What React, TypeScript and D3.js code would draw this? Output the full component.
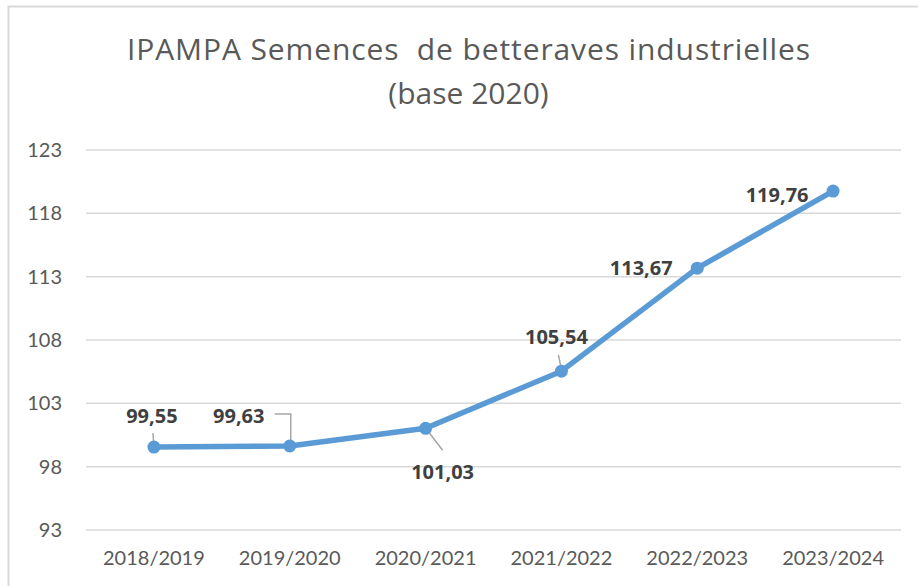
import React from "react";
import * as d3 from "d3";

const categories = ["2018/2019", "2019/2020", "2020/2021", "2021/2022", "2022/2023", "2023/2024"];
const values = [99.55, 99.63, 101.03, 105.54, 113.67, 119.76];
const yTicks = [93, 98, 103, 108, 113, 118, 123];
const valueLabels = ["99,55", "99,63", "101,03", "105,54", "113,67", "119,76"];
const titleLines = ["IPAMPA Semences  de betteraves industrielles", "(base 2020)"];

// label layout offsets relative to the point (dx, dy of text center/baseline)
const labelOffsets: [number, number][] = [
  [-2, -24],
  [-51, -23],
  [17, 51],
  [-5, -27],
  [-56, 7],
  [-56, 11],
];

const W = 918;
const H = 586;

export default function App() {
  const x = d3.scalePoint<string>().domain(categories).range([86, 901]).padding(0.5);
  const y = d3.scaleLinear().domain([93, 123]).range([530, 150]);
  const line = d3
    .line<number>()
    .x((_, i) => x(categories[i]) as number)
    .y((d) => y(d));

  const pts = values.map((v, i) => ({ cx: x(categories[i]) as number, cy: y(v) }));

  const leaders: string[] = [
    `M${pts[0].cx},${pts[0].cy - 2} L${pts[0].cx - 1},${pts[0].cy - 14}`,
    `M${pts[1].cx - 15},${pts[1].cy - 32} L${pts[1].cx + 1},${pts[1].cy - 32} L${pts[1].cx + 1},${pts[1].cy - 2}`,
    `M${pts[2].cx + 1},${pts[2].cy + 1} L${pts[2].cx + 17},${pts[2].cy + 22}`,
    `M${pts[3].cx},${pts[3].cy - 2} L${pts[3].cx - 3},${pts[3].cy - 16}`,
  ];

  return (
    <svg
      width={W}
      height={H}
      style={{ position: "absolute", left: 0, top: 0, background: "#fff" }}
    >
      <rect x={0} y={0} width={W} height={H} fill="#fff" />
      <path d={`M8.5,${H} L8.5,6.5 L${W},6.5`} fill="none" stroke="#d9d9d9" strokeWidth={2} />
      {titleLines.map((t, i) => (
        <text
          key={t}
          x={468.5}
          y={60 + i * 44}
          textAnchor="middle"
          fontFamily="Open Sans"
          fontSize={30}
          fill="#595959"
          textLength={i === 0 ? 683 : undefined}
          lengthAdjust="spacing"
          style={{ whiteSpace: "pre" }}
        >
          {t}
        </text>
      ))}
      {yTicks.map((t) => (
        <g key={t}>
          <line x1={86} x2={901} y1={y(t)} y2={y(t)} stroke="#d9d9d9" strokeWidth={1.5} />
          <text
            x={62}
            y={y(t) + 7}
            textAnchor="end"
            fontFamily="Lato"
            fontSize={20}
            fill="#595959"
          >
            {t}
          </text>
        </g>
      ))}
      {categories.map((c) => (
        <text
          key={c}
          x={x(c) as number}
          y={565}
          textAnchor="middle"
          fontFamily="Lato"
          fontSize={20}
          fill="#595959"
        >
          {c}
        </text>
      ))}
      {leaders.map((d, i) => (
        <path key={i} d={d} fill="none" stroke="#a6a6a6" strokeWidth={1.5} />
      ))}
      <path d={line(values) || ""} fill="none" stroke="#5b9bd5" strokeWidth={5.5} strokeLinejoin="round" strokeLinecap="round" />
      {pts.map((p, i) => (
        <circle key={i} cx={p.cx} cy={p.cy} r={6.5} fill="#5b9bd5" />
      ))}
      {pts.map((p, i) => (
        <text
          key={"l" + i}
          x={p.cx + labelOffsets[i][0]}
          y={p.cy + labelOffsets[i][1]}
          textAnchor="middle"
          fontFamily="Open Sans"
          fontWeight="bold"
          fontSize={20}
          fill="#404040"
        >
          {valueLabels[i]}
        </text>
      ))}
    </svg>
  );
}
